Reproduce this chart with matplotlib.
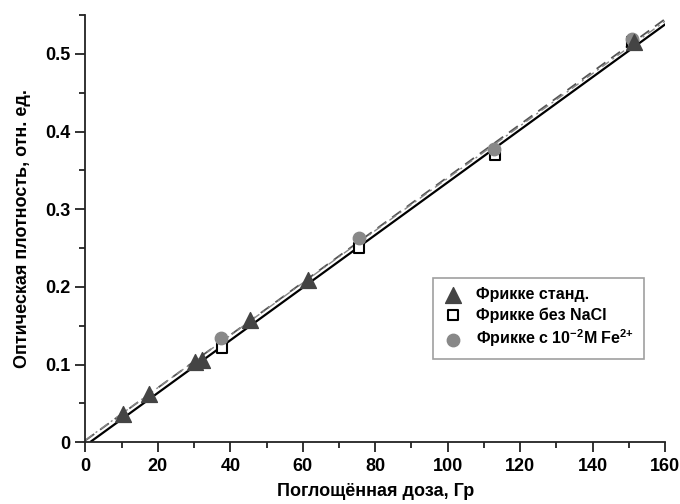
import numpy as np
import matplotlib
matplotlib.use('Agg')
import matplotlib.pyplot as plt
from matplotlib.ticker import MultipleLocator

plt.rcParams['font.family'] = ['Liberation Sans', 'DejaVu Sans']
plt.rcParams['font.weight'] = 'bold'
plt.rcParams['mathtext.default'] = 'regular'

# Фрикке станд.
dose_std = [10.4, 17.4, 30.2, 32.1, 45.4, 61.4, 151.3]
od_std = [0.037, 0.062, 0.104, 0.106, 0.158, 0.209, 0.516]
# Фрикке без NaCl
dose_nacl = [37.6, 75.6, 113.1, 151.0]
od_nacl = [0.121, 0.250, 0.370, 0.515]
# Фрикке с 10^-2 M Fe2+
dose_fe = [37.3, 75.4, 112.7, 151.0]
od_fe = [0.134, 0.263, 0.378, 0.519]

# fitted lines: (slope, intercept)
fit_std = (0.003388, -0.0041)
fit_fe = (0.00339, 0.0025)
fit_nacl = (0.00337, 0.0030)

fig = plt.figure(figsize=(6.8, 5.04), dpi=100)
ax = fig.add_axes([0.1257, 0.1224, 0.8523, 0.8476])

xs = np.linspace(0, 160, 200)
ys = fit_std[0] * xs + fit_std[1]
m = ys >= 0
ax.plot(xs[m], ys[m], color='black', lw=1.6, zorder=2)
ax.plot(xs, fit_fe[0] * xs + fit_fe[1], color='#555555', lw=1.3,
        dashes=(6, 4), zorder=2)
ax.plot(xs, fit_nacl[0] * xs + fit_nacl[1], color='#888888', lw=1.0,
        dashes=(6, 3, 1.5, 3), zorder=2)

ax.scatter(dose_std, od_std, marker='^', s=130, color='#444444',
           label='Фрикке станд.', zorder=4)
ax.scatter(dose_nacl, od_nacl, marker='s', s=45, facecolor='white',
           edgecolor='black', linewidths=1.5, label='Фрикке без NaCl', zorder=3)
ax.scatter(dose_fe, od_fe, marker='o', s=80, color='#888888',
           label='Фрикке с 10$^{{-}2}$M Fe$^{2{+}}$', zorder=3)

ax.set_xlim(0, 160)
ax.set_ylim(0, 0.55)
ax.xaxis.set_major_locator(MultipleLocator(20))
ax.xaxis.set_minor_locator(MultipleLocator(10))
ax.yaxis.set_major_locator(MultipleLocator(0.1))
ax.yaxis.set_minor_locator(MultipleLocator(0.05))
ax.set_yticks([0, 0.1, 0.2, 0.3, 0.4, 0.5])
ax.set_yticklabels(['0', '0.1', '0.2', '0.3', '0.4', '0.5'])

for s in ['top', 'right']:
    ax.spines[s].set_visible(False)
for s in ['left', 'bottom']:
    ax.spines[s].set_linewidth(1.3)
    ax.spines[s].set_color('#222222')

ax.tick_params(which='major', length=7, width=1.3, labelsize=13, pad=4, color='#222222')
ax.tick_params(which='minor', length=4, width=1.3, color='#222222')

ax.set_xlabel('Поглощённая доза, Гр', fontsize=13, fontweight='bold', labelpad=6)
ax.set_ylabel('Оптическая плотность, отн. ед.', fontsize=13, fontweight='bold', labelpad=10)

leg = ax.legend(loc='upper left', bbox_to_anchor=(0.6, 0.385), fontsize=11.5,
                frameon=True, fancybox=False, edgecolor='#888888',
                handletextpad=0.8, borderpad=0.6, labelspacing=0.3,
                handlelength=1.3, scatterpoints=1, borderaxespad=0)
leg.get_frame().set_linewidth(1.2)

plt.savefig('out.png', dpi=100)
